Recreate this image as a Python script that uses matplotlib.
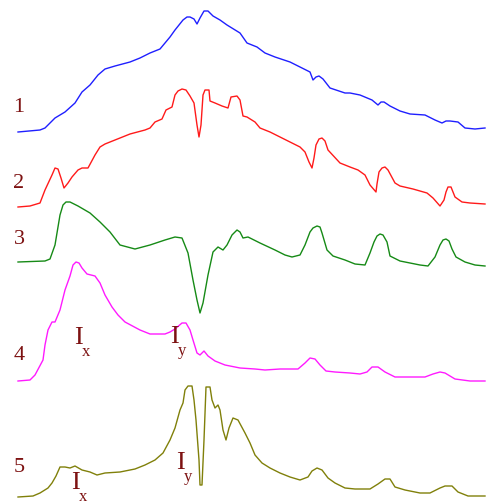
import matplotlib
matplotlib.use('Agg')
import matplotlib.pyplot as plt

# traces in image units (x to the right, y downward)
x1 = [18, 40, 45, 55, 65, 75, 82, 90, 98, 105, 115, 130, 140, 150, 160, 170, 175, 183, 187, 190,
      194, 197, 200, 204, 208, 213, 220, 227, 240, 247, 257, 265, 275, 290, 300, 310, 313, 316,
      319, 323, 330, 345, 350, 360, 372, 378, 381, 384, 390, 400, 410, 425, 435, 442, 446, 450,
      458, 465, 475, 485]
y1 = [132, 130, 128, 118, 112, 103, 92, 85, 75, 69, 66, 62, 58, 53, 49, 37, 30, 20, 17, 17,
      19, 24, 18, 11, 11, 16, 20, 25, 33, 43, 47, 53, 57, 62, 67, 72, 80, 77, 76, 79, 88, 93, 93,
      95, 100, 105, 102, 102, 106, 111, 114, 115, 120, 123, 121, 121, 122, 128, 129, 128]

x2 = [18, 30, 40, 45, 52, 55, 58, 61, 64, 68, 72, 78, 82, 88, 95, 100, 105, 120, 130, 145, 150,
      155, 162, 166, 172, 175, 178, 182, 186, 190, 194, 197, 199, 201, 203, 205, 209, 210, 215,
      222, 228, 231, 237, 240, 243, 247, 255, 260, 270, 280, 290, 300, 305, 309, 312, 314, 316,
      319, 322, 325, 328, 340, 350, 358, 365, 370, 376, 377, 379, 382, 385, 388, 395, 400, 413,
      427, 433, 440, 444, 446, 448, 451, 455, 462, 470, 485]
y2 = [207, 206, 203, 190, 175, 168, 169, 178, 188, 183, 177, 170, 168, 168, 155, 147, 144, 138,
      134, 130, 128, 122, 119, 110, 107, 95, 91, 89, 90, 96, 103, 125, 137, 125, 95, 90, 90, 101,
      103, 106, 108, 97, 96, 100, 116, 117, 122, 128, 132, 137, 142, 147, 152, 162, 168, 158, 145,
      139, 138, 141, 150, 163, 167, 170, 175, 185, 192, 184, 172, 168, 167, 170, 183, 186, 189,
      193, 198, 206, 200, 192, 187, 187, 197, 202, 203, 204]

x3 = [18, 45, 50, 55, 60, 63, 66, 70, 78, 90, 100, 110, 120, 135, 150, 165, 175, 182, 188, 193,
      197, 200, 203, 208, 213, 218, 223, 227, 232, 237, 240, 243, 248, 260, 275, 285, 292, 300,
      305, 310, 313, 317, 320, 322, 327, 333, 345, 355, 365, 370, 374, 377, 380, 383, 387, 390,
      400, 410, 420, 428, 435, 440, 443, 446, 449, 452, 456, 465, 475, 485]
y3 = [262, 261, 259, 245, 215, 205, 202, 202, 206, 213, 222, 232, 245, 249, 245, 240, 237, 238,
      253, 280, 300, 313, 303, 275, 252, 247, 250, 245, 235, 230, 232, 238, 237, 243, 250, 255,
      257, 255, 245, 232, 228, 226, 227, 233, 250, 256, 260, 264, 265, 253, 242, 236, 234, 235,
      242, 256, 261, 263, 265, 266, 257, 245, 240, 239, 241, 249, 257, 262, 265, 266]

x4 = [18, 30, 35, 43, 45, 48, 52, 55, 60, 65, 70, 73, 76, 79, 82, 87, 95, 100, 105, 112, 118,
      125, 140, 150, 165, 170, 175, 182, 186, 190, 193, 197, 200, 204, 208, 215, 225, 240, 255,
      265, 280, 298, 305, 310, 315, 320, 326, 335, 350, 360, 367, 372, 378, 385, 395, 410, 425,
      433, 440, 445, 455, 470, 485]
y4 = [381, 380, 375, 360, 345, 330, 322, 322, 310, 290, 276, 265, 262, 263, 268, 274, 276, 283,
      295, 307, 315, 322, 330, 334, 334, 332, 329, 323, 323, 330, 340, 353, 355, 351, 356, 361,
      365, 368, 369, 370, 369, 369, 363, 358, 359, 365, 371, 372, 373, 374, 372, 367, 367, 372,
      377, 377, 377, 374, 372, 373, 379, 381, 381]

x5 = [18, 33, 40, 48, 52, 56, 60, 65, 70, 75, 82, 90, 97, 105, 120, 135, 145, 155, 163, 170, 175,
      180, 183, 185, 188, 192, 194, 196, 199, 200, 202, 204, 206, 210, 212, 215, 218, 220, 223,
      226, 229, 233, 238, 245, 250, 255, 262, 270, 280, 290, 300, 308, 312, 317, 322, 328, 335,
      345, 355, 370, 378, 385, 390, 395, 405, 420, 430, 440, 445, 452, 458, 468, 485]
y5 = [497, 496, 493, 488, 483, 476, 467, 467, 468, 466, 470, 472, 475, 473, 472, 469, 465, 460,
      453, 440, 428, 410, 403, 390, 386, 386, 400, 420, 460, 485, 485, 440, 387, 387, 400, 408,
      405, 410, 430, 440, 428, 418, 420, 433, 443, 455, 463, 468, 473, 477, 480, 477, 471, 468,
      470, 478, 483, 488, 489, 489, 484, 479, 479, 487, 490, 493, 493, 488, 486, 486, 492, 496,
      496]

curve_labels = ['1', '2', '3', '4', '5']
label_y = [108, 184, 240, 355, 467]
colors = ['#1f1fff', '#ff1a1a', '#168a16', '#ff1aff', '#80800a']
dark_red = '#7d1212'

fig = plt.figure(figsize=(4.93, 5.04), dpi=100)
ax = fig.add_axes([0, 0, 1, 1])
ax.set_xlim(0, 493)
ax.set_ylim(504, 0)
ax.axis('off')

for xs, ys, c in zip([x1, x2, x3, x4, x5], [y1, y2, y3, y4, y5], colors):
    ax.plot(xs, ys, color=c, lw=1.0, solid_joinstyle='round')

for lab, ly in zip(curve_labels, label_y):
    ax.text(19, ly, lab, ha='center', va='center', fontsize=16,
            family='Liberation Serif', color=dark_red)

# peak markers I_x / I_y
marks = [(78, 338, 'x'), (174, 337, 'y'), (75, 483, 'x'), (180, 463, 'y')]
for mx, my, sub in marks:
    ax.text(mx, my, 'I', ha='center', va='center', fontsize=19,
            family='Liberation Serif', color=dark_red)
    ax.text(mx + 8, my + 14, sub, ha='center', va='center', fontsize=12,
            family='Liberation Serif', color=dark_red)

fig.savefig('out.png', dpi=100)
